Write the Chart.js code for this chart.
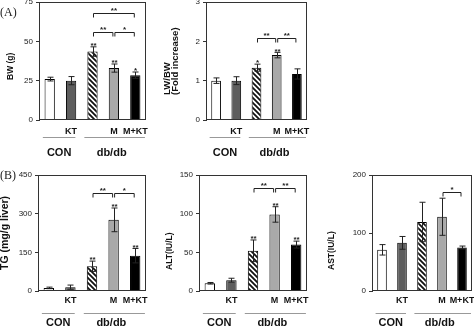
<!DOCTYPE html>
<html>
<head>
<meta charset="utf-8">
<script src="https://cdn.jsdelivr.net/npm/chart.js@4.4.1/dist/chart.umd.min.js"></script>
<style>
    body { margin: 0; background: #fff; }
    #figure { position: relative; width: 474px; height: 329px; overflow: hidden; }
    #figure canvas { position: absolute; }
    .panel-tag { position: absolute; font-family: "Liberation Serif", serif; font-size: 12px; line-height: 14px; color: #222; }
</style>
</head>
<body>
<div id="figure"></div>
<script>
/*
    ----------> DATA <----------
*/

const categories = ["", "KT", "", "M", "M+KT"];
const groups = ["CON", "db/db"];

const bwMeans = [26, 25, 43.5, 33, 28.5];
const bwErrors = [1.2, 2.6, 3, 2.6, 2];
const bwStars = ["", "", "**", "**", "*"];
const bwBrackets = [[2, 4, 68, "**"], [2, 3, 56, "**"], [3, 4, 56, "*"]];

const lwMeans = [1.0, 1.0, 1.33, 1.65, 1.17];
const lwErrors = [0.07, 0.1, 0.09, 0.07, 0.13];
const lwStars = ["", "", "*", "**", ""];
const lwBrackets = [[2, 3, 2.08, "**"], [3, 4, 2.08, "**"]];

const tgMeans = [12, 15, 96, 276, 137];
const tgErrors = [3, 8, 20, 46, 28];
const tgStars = ["", "", "**", "**", "**"];
const tgBrackets = [[2, 3, 380, "**"], [3, 4, 380, "*"]];

const altMeans = [10, 14, 52, 99, 60];
const altErrors = [1, 2.5, 14, 10, 4.5];
const altStars = ["", "", "**", "**", "**"];
const altBrackets = [[2, 3, 133, "**"], [3, 4, 133, "**"]];

const astMeans = [71, 83, 119, 128, 75];
const astErrors = [9, 11, 34, 32, 2.5];
const astStars = ["", "", "", "", ""];
const astBrackets = [[3, 4, 170, "*"]];

/*
    ----------> HELPERS <----------
*/

const figure = document.getElementById("figure");
const FONT = "'Liberation Sans', Arial, sans-serif";

function hatchPattern() {
    const tile = document.createElement("canvas");
    tile.width = 5;
    tile.height = 5;
    const g = tile.getContext("2d");
    g.fillStyle = "#fff";
    g.fillRect(0, 0, 5, 5);
    g.strokeStyle = "#111";
    g.lineWidth = 1.8;
    g.beginPath();
    g.moveTo(-1, -1); g.lineTo(6, 6);
    g.moveTo(-1, 4); g.lineTo(1, 6);
    g.moveTo(4, -1); g.lineTo(6, 1);
    g.stroke();
    return g.createPattern(tile, "repeat");
}

const barColors = ["#ffffff", "#5e5e5e", hatchPattern(), "#a9a9a9", "#000000"];

const figurePlugin = {
    id: "figureMarks",
    afterDatasetsDraw(chart, args, opts) {
        const ctx = chart.ctx;
        const area = chart.chartArea;
        const x = chart.scales.x;
        const y = chart.scales.y;
        const cw = x.getPixelForValue(1) - x.getPixelForValue(0);

        ctx.save();

        // frame
        ctx.strokeStyle = "#333";
        ctx.lineWidth = 1;
        ctx.strokeRect(Math.round(area.left) + 0.5, Math.round(area.top) + 0.5,
            Math.round(area.width) - 1, Math.round(area.height) - 1);

        // error bars + stars
        ctx.strokeStyle = "#222";
        ctx.fillStyle = "#222";
        ctx.font = `bold 8px ${FONT}`;
        ctx.textAlign = "center";
        ctx.textBaseline = "middle";
        opts.means.forEach((m, i) => {
            const cx = Math.round(x.getPixelForValue(i)) + 0.5;
            const top = y.getPixelForValue(m + opts.errors[i]);
            const bottom = y.getPixelForValue(Math.max(0, m - opts.errors[i]));
            ctx.beginPath();
            ctx.moveTo(cx, bottom); ctx.lineTo(cx, top);
            ctx.moveTo(cx - 3, top); ctx.lineTo(cx + 3, top);
            ctx.moveTo(cx - 3, bottom); ctx.lineTo(cx + 3, bottom);
            ctx.stroke();
            if (opts.stars[i]) ctx.fillText(opts.stars[i], cx, top - 1);
        });

        // brackets
        opts.brackets.forEach(b => {
            const yb = Math.round(y.getPixelForValue(b[2])) + 0.5;
            const x1 = x.getPixelForValue(b[0]) + 1;
            const x2 = x.getPixelForValue(b[1]) - 1;
            ctx.beginPath();
            ctx.moveTo(x1, yb + 4); ctx.lineTo(x1, yb); ctx.lineTo(x2, yb); ctx.lineTo(x2, yb + 4);
            ctx.stroke();
            ctx.fillText(b[3], (x1 + x2) / 2, yb - 3);
        });

        // group lines and labels
        const lineY = Math.round(area.bottom + opts.lineGap) + 0.5;
        const spans = [
            [x.getPixelForValue(0) - 0.32 * cw, x.getPixelForValue(1) + 0.2 * cw],
            [x.getPixelForValue(2) - 0.38 * cw, x.getPixelForValue(4) + 0.45 * cw],
        ];
        ctx.strokeStyle = "#999";
        ctx.fillStyle = "#111";
        ctx.font = `bold 11px ${FONT}`;
        spans.forEach((s, k) => {
            ctx.beginPath();
            ctx.moveTo(s[0], lineY); ctx.lineTo(s[1], lineY);
            ctx.stroke();
            ctx.fillText(groups[k], (s[0] + s[1]) / 2 - (k ? 3 : 0), area.bottom + opts.textGap);
        });

        // rotated y title
        const t = opts.title;
        ctx.translate(t.x, t.y);
        ctx.rotate(-Math.PI / 2);
        ctx.textAlign = "left";
        ctx.font = `bold ${t.size}px ${FONT}`;
        t.lines.forEach((line, k) => ctx.fillText(line, 0, k * t.gap));

        ctx.restore();
    }
};

function addPanel(cfg) {
    const [left, top, width, height] = cfg.box;
    const canvas = document.createElement("canvas");
    canvas.width = width;
    canvas.height = height;
    canvas.style.left = left + "px";
    canvas.style.top = top + "px";
    canvas.style.width = width + "px";
    canvas.style.height = height + "px";
    figure.append(canvas);

    new Chart(canvas, {
        type: "bar",
        data: {
            labels: categories,
            datasets: [{
                data: cfg.means,
                backgroundColor: barColors,
                borderColor: "#000",
                borderWidth: 1,
                categoryPercentage: 1,
                barPercentage: 0.48,
            }],
        },
        options: {
            responsive: false,
            animation: false,
            devicePixelRatio: 1,
            layout: { padding: { left: 0, top: cfg.padTop, right: cfg.padRight, bottom: 0 } },
            plugins: {
                legend: { display: false },
                tooltip: { enabled: false },
                figureMarks: {
                    means: cfg.means,
                    errors: cfg.errors,
                    stars: cfg.stars,
                    brackets: cfg.brackets,
                    lineGap: cfg.lineGap,
                    textGap: cfg.textGap,
                    title: cfg.title,
                },
            },
            scales: {
                x: {
                    grid: { display: false, drawTicks: false },
                    border: { display: false },
                    ticks: {
                        color: "#111",
                        padding: cfg.labelPad,
                        autoSkip: false,
                        maxRotation: 0,
                        font: { family: FONT, size: 9, weight: "bold" },
                    },
                    afterFit: scale => {
                        scale.height = cfg.xHeight;
                        scale.paddingLeft = 0;
                        scale.paddingRight = 0;
                    },
                },
                y: {
                    min: 0,
                    max: cfg.max,
                    grid: { display: true, drawOnChartArea: false, drawTicks: true, tickLength: 3, color: "#333" },
                    border: { display: true, color: "#333" },
                    ticks: {
                        stepSize: cfg.step,
                        color: "#222",
                        padding: 3,
                        font: { family: FONT, size: 8 },
                    },
                    afterFit: scale => {
                        scale.width = cfg.yWidth;
                        scale.paddingTop = 0;
                        scale.paddingBottom = 0;
                    },
                },
            },
        },
        plugins: [figurePlugin],
    });
}

/*
    ----------> PANELS <----------
*/

addPanel({
    box: [0, 0, 150, 165], padTop: 2, padRight: 4, yWidth: 39, xHeight: 45,
    labelPad: 6, lineGap: 17, textGap: 33,
    means: bwMeans, errors: bwErrors, stars: bwStars, brackets: bwBrackets, max: 75, step: 25,
    title: { lines: ["BW (g)"], x: 11, y: 80, size: 8.5, gap: 9 },
});

addPanel({
    box: [160, 0, 150, 165], padTop: 2, padRight: 3, yWidth: 46, xHeight: 45,
    labelPad: 6, lineGap: 17, textGap: 33,
    means: lwMeans, errors: lwErrors, stars: lwStars, brackets: lwBrackets, max: 3, step: 1,
    title: { lines: ["LW/BW", "(Fold increase)"], x: 7.5, y: 95, size: 9.5, gap: 7.5 },
});

addPanel({
    box: [0, 165, 150, 164], padTop: 10, padRight: 4, yWidth: 38, xHeight: 38,
    labelPad: 4, lineGap: 22, textGap: 32,
    means: tgMeans, errors: tgErrors, stars: tgStars, brackets: tgBrackets, max: 450, step: 150,
    title: { lines: ["TG (mg/g liver)"], x: 5.5, y: 105, size: 10.5, gap: 9 },
});

addPanel({
    box: [160, 165, 150, 164], padTop: 10, padRight: 3, yWidth: 39, xHeight: 38,
    labelPad: 4, lineGap: 22, textGap: 32,
    means: altMeans, errors: altErrors, stars: altStars, brackets: altBrackets, max: 150, step: 50,
    title: { lines: ["ALT(IU/L)"], x: 10, y: 105, size: 8.5, gap: 9 },
});

addPanel({
    box: [320, 165, 154, 164], padTop: 10, padRight: 2, yWidth: 52, xHeight: 38,
    labelPad: 4, lineGap: 22, textGap: 32,
    means: astMeans, errors: astErrors, stars: astStars, brackets: astBrackets, max: 200, step: 100,
    title: { lines: ["AST(IU/L)"], x: 11.5, y: 105, size: 8.5, gap: 9 },
});

/* -----> PANEL TAGS <----- */

[["(A)", 0, 5], ["(B)", 0, 168]].forEach(([text, left, top]) => {
    const tag = document.createElement("div");
    tag.classList.add("panel-tag");
    tag.style.left = left + "px";
    tag.style.top = top + "px";
    tag.innerText = text;
    figure.append(tag);
});
</script>
</body>
</html>
